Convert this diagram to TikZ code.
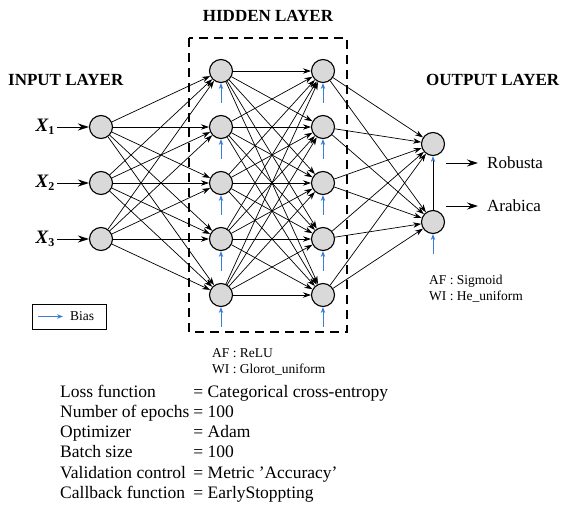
\documentclass[tikz,border=0pt]{standalone}
\usepackage{fontspec}
\setmainfont{Liberation Serif}
\usetikzlibrary{arrows.meta, positioning}
\definecolor{neuronfill}{RGB}{217,217,217}
\definecolor{biasblue}{RGB}{58,125,214}
\tikzset{
    neuron/.style={
        circle, draw=black, line width=1.1pt, fill=neuronfill,
        minimum size=23pt, inner sep=0pt
    },
    connection/.style={draw=black, line width=0.7pt, -{Stealth[length=8pt, width=5.5pt]}},
    inputarrow/.style={draw=black, line width=1pt, -{Stealth[length=11pt, width=7pt]}},
    biasarrow/.style={draw=biasblue, line width=1pt, -{Stealth[length=6pt, width=4.5pt]}},
    layertitle/.style={font=\fontsize{17}{20}\selectfont\bfseries, inner sep=0pt},
    label/.style={font=\fontsize{13.5}{16}\selectfont, inner sep=0pt, align=left},
    classlabel/.style={font=\fontsize{17}{20}\selectfont, inner sep=0pt}
}

\begin{document}
\begin{tikzpicture}[x=1pt, y=-1pt]
    \useasboundingbox (0,0) rectangle (562,506);

    % Layer titles
    \node[layertitle] (hiddentitle) at (268,16) {HIDDEN LAYER};
    \node[layertitle, anchor=west] (inputtitle) at (8,80) {INPUT LAYER};
    \node[layertitle, anchor=west] (outputtitle) at (426,80) {OUTPUT LAYER};

    % Hidden layer frame
    \draw[dashed, line width=1.3pt, dash pattern=on 9pt off 6pt] (189,38) rectangle (347,332);

    % Neurons
    \foreach \i in {1,2,3} {
        \node[neuron] (in-\i) at (101,71+56*\i) {};
        \node[anchor=east, font=\fontsize{19}{20}\selectfont\bfseries\itshape, inner sep=0pt]
            (x-\i) at (55,71+56*\i) {X\textsubscript{\upshape\fontsize{12}{12}\selectfont\i}};
        \draw[inputarrow] (x-\i.east) ++(2,0) coordinate (xs-\i) -- (in-\i);
    }
    \foreach \i in {1,...,5} {
        \node[neuron] (h1-\i) at (221,15+56*\i) {};
        \node[neuron] (h2-\i) at (323,15+56*\i) {};
    }
    \node[neuron] (out-1) at (433,144) {};
    \node[neuron] (out-2) at (433,222) {};

    % Weights
    \foreach \i in {1,2,3}
        \foreach \j in {1,...,5}
            \draw[connection] (in-\i) -- (h1-\j);
    \foreach \i in {1,...,5}
        \foreach \j in {1,...,5}
            \draw[connection] (h1-\i) -- (h2-\j);
    \foreach \i in {1,...,5}
        \foreach \j in {1,2}
            \draw[connection] (h2-\i) -- (out-\j);

    % Bias inputs
    \foreach \i in {1,...,5} {
        \coordinate[below=20pt of h1-\i.south] (b1-\i);
        \coordinate[below=20pt of h2-\i.south] (b2-\i);
        \draw[biasarrow] (b1-\i) -- (h1-\i.south);
        \draw[biasarrow] (b2-\i) -- (h2-\i.south);
    }
    \coordinate[below=20pt of out-2.south] (bo-2);
    \draw[biasarrow] (bo-2) -- (out-2.south);
    \draw[line width=1pt, -{Stealth[length=6pt, width=4.5pt, color=biasblue]}] (out-2.north) -- (out-1.south);

    % Outputs
    \node[classlabel, anchor=west] (robusta) at (487,163) {Robusta};
    \node[classlabel, anchor=west] (arabica) at (487,206) {Arabica};
    \coordinate (ro) at (446,163);
    \coordinate (ar) at (446,206);
    \draw[inputarrow] (ro) -- ([xshift=-9pt]robusta.west);
    \draw[inputarrow] (ar) -- ([xshift=-9pt]arabica.west);

    % Legend
    \draw[line width=0.8pt] (32,304) rectangle (106,329);
    \coordinate (legstart) at (38,316.5);
    \node[label, anchor=west] (biaslabel) at (70,316.5) {Bias};
    \draw[biasarrow] (legstart) -- ([xshift=-7pt]biaslabel.west);

    % Activation and initialisation
    \node[label, anchor=north west] (hiddeninfo) at (212,348) {AF : ReLU\\WI : Glorot\_uniform};
    \node[label, anchor=north west] (outinfo) at (429,275) {AF : Sigmoid\\WI : He\_uniform};

    % Training settings
    \node[anchor=north west, inner sep=0pt, font=\fontsize{17.5}{20.2}\selectfont] (settings) at (60,383) {%
        \begin{tabular}{@{}l@{\hspace{4pt}}l@{}}
            Loss function & = Categorical cross-entropy\\
            Number of epochs & = 100\\
            Optimizer & = Adam\\
            Batch size & = 100\\
            Validation control & = Metric 'Accuracy'\\
            Callback function & = EarlyStoppting
        \end{tabular}};
\end{tikzpicture}
\end{document}
